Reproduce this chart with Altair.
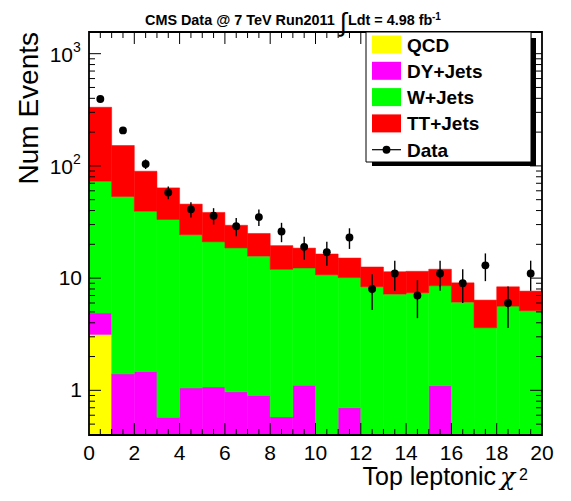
import altair as alt
import numpy as np
import pandas as pd

# ---------------- data ----------------
bin_low = list(range(20))
bin_width = 1.0
qcd = [3.15] + [0.0] * 19
dy_jets = [1.73, 1.40, 1.47, 0.575, 1.05, 1.07, 0.97, 0.90, 0.58, 1.11,
           0.0, 0.70, 0.0, 0.0, 0.0, 1.10, 0.0, 0.0, 0.0, 0.0]
w_jets = [68.2, 52.0, 38.0, 32.7, 23.3, 20.0, 17.6, 14.8, 11.4, 11.2,
          10.7, 9.4, 8.37, 7.2, 7.4, 7.45, 6.11, 3.61, 5.63, 5.12]
tt_jets = [260, 98.6, 50.2, 30.4, 21.3, 17.4, 11.0, 9.3, 7.5, 6.2,
           5.7, 5.0, 4.2, 4.2, 4.1, 3.45, 2.97, 2.76, 2.74, 2.54]
data_counts = [395, 207, 104, 58, 41, 36, 29, 35, 26, 19,
               17, 23, 8, 11, 7, 11, 9, 13, 6, 11]
data_err = [19.9, 14.4, 10.2, 7.6, 6.4, 6.0, 5.4, 5.9, 5.1, 4.4,
            4.1, 4.8, 2.8, 3.3, 2.6, 3.3, 3.0, 3.6, 2.4, 3.3]

components = ["QCD", "DY+Jets", "W+Jets", "TT+Jets"]
comp_colors = ["#ffff00", "#ff00ff", "#00ff00", "#ff0000"]
x_label_values = [0, 2, 4, 6, 8, 10, 12, 14, 16, 18, 20]

# ---------------- layout ----------------
W, H = 453, 403
Y_MIN, Y_MAX = 0.4, 1560
FONT = "Liberation Sans"

# ---------------- stack the histogram ----------------
rows = []
base = np.zeros(len(bin_low))
for name, vals in zip(components, [qcd, dy_jets, w_jets, tt_jets]):
    v = np.array(vals, dtype=float)
    top = base + v
    for i, lo in enumerate(bin_low):
        if v[i] > 0:
            rows.append(dict(comp=name, x0=lo, x1=lo + bin_width,
                             lo=max(base[i], Y_MIN), hi=top[i]))
    base = top
stack_df = pd.DataFrame(rows)

data_df = pd.DataFrame({
    "xc": [b + bin_width / 2 for b in bin_low],
    "n": data_counts,
    "elo": [n - e for n, e in zip(data_counts, data_err)],
    "ehi": [n + e for n, e in zip(data_counts, data_err)],
})

xs = alt.Scale(domain=[0, 20], nice=False, zero=False)
ys = alt.Scale(type="log", domain=[Y_MIN, Y_MAX], nice=False)
cscale = alt.Scale(domain=components, range=comp_colors)

bars = alt.Chart(stack_df).mark_rect(strokeWidth=0.5).encode(
    x=alt.X("x0:Q", scale=xs, axis=None),
    x2="x1:Q",
    y=alt.Y("lo:Q", scale=ys, axis=None),
    y2="hi:Q",
    color=alt.Color("comp:N", scale=cscale, legend=None),
    stroke=alt.Stroke("comp:N", scale=cscale, legend=None),
)

err = alt.Chart(data_df).mark_rule(color="black", strokeWidth=1.4).encode(
    x=alt.X("xc:Q", scale=xs, axis=None),
    y=alt.Y("elo:Q", scale=ys, axis=None),
    y2="ehi:Q",
)
pts = alt.Chart(data_df).mark_circle(color="black", opacity=1, size=62).encode(
    x=alt.X("xc:Q", scale=xs, axis=None),
    y=alt.Y("n:Q", scale=ys, axis=None),
)

# ---------------- inward ROOT-style ticks ----------------
x_all = np.arange(0.5, 20, 0.5)
x_major = [v for v in x_all if abs(v / 2 - round(v / 2)) < 1e-9]
x_minor = [v for v in x_all if abs(v / 2 - round(v / 2)) >= 1e-9]
y_major = [1, 10, 100, 1000]
y_minor = sorted(set(round(m * 10.0 ** e, 6) for e in range(-1, 4) for m in range(2, 10)
                     if Y_MIN < m * 10.0 ** e < Y_MAX))


def xtick_layer(vals, length, side):
    df = pd.DataFrame({"t": vals})
    if side == "bottom":
        pos = dict(y=alt.value(H), y2=alt.value(H - length))
    else:
        pos = dict(y=alt.value(0), y2=alt.value(length))
    return alt.Chart(df).mark_rule(color="black", strokeWidth=1).encode(
        x=alt.X("t:Q", scale=xs, axis=None), **pos)


def ytick_layer(vals, length, side):
    df = pd.DataFrame({"t": vals})
    if side == "left":
        pos = dict(x=alt.value(0), x2=alt.value(length))
    else:
        pos = dict(x=alt.value(W), x2=alt.value(W - length))
    return alt.Chart(df).mark_rule(color="black", strokeWidth=1).encode(
        y=alt.Y("t:Q", scale=ys, axis=None), **pos)


ticks = [
    xtick_layer(x_major, 12, "bottom"), xtick_layer(x_minor, 6, "bottom"),
    xtick_layer(x_major, 12, "top"), xtick_layer(x_minor, 6, "top"),
    ytick_layer(y_major, 12, "left"), ytick_layer(y_minor, 6, "left"),
    ytick_layer(y_major, 12, "right"), ytick_layer(y_minor, 6, "right"),
]


def one():
    return alt.Chart(pd.DataFrame({"d": [0]}))


frame = one().mark_rect(fillOpacity=0, stroke="black", strokeWidth=1.8).encode(
    x=alt.value(0), x2=alt.value(W), y=alt.value(0), y2=alt.value(H))

# ---------------- tick labels ----------------
xlab_df = pd.DataFrame({"v": x_label_values, "txt": [str(v) for v in x_label_values]})
xlab = alt.Chart(xlab_df).mark_text(
    font=FONT, fontSize=21, align="center", baseline="top", color="black"
).encode(x=alt.X("v:Q", scale=xs, axis=None), y=alt.value(H + 8), text="txt:N")

plain_df = pd.DataFrame({"v": [1, 10], "txt": ["1", "10"]})
pow_df = pd.DataFrame({"v": [100, 1000], "txt": ["10", "10"], "ex": ["2", "3"]})
ylab_plain = alt.Chart(plain_df).mark_text(
    font=FONT, fontSize=21, align="right", baseline="middle", color="black", dy=1
).encode(x=alt.value(-7), y=alt.Y("v:Q", scale=ys, axis=None), text="txt:N")
ylab_base = alt.Chart(pow_df).mark_text(
    font=FONT, fontSize=21, align="right", baseline="middle", color="black", dy=2
).encode(x=alt.value(-16), y=alt.Y("v:Q", scale=ys, axis=None), text="txt:N")
ylab_exp = alt.Chart(pow_df).mark_text(
    font=FONT, fontSize=14, align="left", baseline="middle", color="black", dy=-6
).encode(x=alt.value(-16), y=alt.Y("v:Q", scale=ys, axis=None), text="ex:N")

# ---------------- legend (ROOT TLegend look) ----------------
LX0, LX1, LY0, LY1 = 277, 442, 0, 130
legend_layers = [
    one().mark_rect(color="black").encode(
        x=alt.value(LX0 + 6), x2=alt.value(LX1 + 5),
        y=alt.value(LY0 + 6), y2=alt.value(LY1 + 4)),
    one().mark_rect(fill="white", stroke="black", strokeWidth=1).encode(
        x=alt.value(LX0), x2=alt.value(LX1), y=alt.value(LY0), y2=alt.value(LY1)),
]
row_h = 26.3
for i, (name, col) in enumerate(zip(components, comp_colors)):
    cy = 12.5 + row_h * i
    legend_layers.append(one().mark_rect(color=col).encode(
        x=alt.value(283), x2=alt.value(312),
        y=alt.value(cy - 9), y2=alt.value(cy + 9)))
    legend_layers.append(one().mark_text(
        text=name, font=FONT, fontSize=19, fontWeight="bold", align="left",
        baseline="middle", color="black").encode(
        x=alt.value(318), y=alt.value(cy + 1)))
cy = 12.5 + row_h * 4
legend_layers += [
    one().mark_rule(color="black", strokeWidth=1.2).encode(
        x=alt.value(283), x2=alt.value(312), y=alt.value(cy)),
    one().mark_circle(color="black", opacity=1, size=62).encode(
        x=alt.value(297.5), y=alt.value(cy)),
    one().mark_text(text="Data", font=FONT, fontSize=19, fontWeight="bold",
                    align="left", baseline="middle", color="black").encode(
        x=alt.value(318), y=alt.value(cy + 1)),
]

# ---------------- titles ----------------
title_layers = [
    one().mark_text(text="CMS Data @ 7 TeV Run2011", font=FONT, fontSize=14.4,
                    fontWeight="bold", align="left", baseline="alphabetic",
                    color="black").encode(x=alt.value(56), y=alt.value(-7)),
    one().mark_text(text="\u222b", font=FONT, fontSize=26,
                    align="center", baseline="middle", color="black").encode(
        x=alt.value(254), y=alt.value(-9)),
    one().mark_text(text="Ldt = 4.98 fb", font=FONT, fontSize=14.4,
                    fontWeight="bold", align="left", baseline="alphabetic",
                    color="black").encode(x=alt.value(259), y=alt.value(-7)),
    one().mark_text(text="-1", font=FONT, fontSize=10, fontWeight="bold",
                    align="left", baseline="alphabetic", color="black").encode(
        x=alt.value(343), y=alt.value(-12)),
    one().mark_text(text="Num Events", font=FONT, fontSize=28, angle=270,
                    align="right", baseline="alphabetic", color="black").encode(
        x=alt.value(-51), y=alt.value(0)),
    one().mark_text(text="Top leptonic", font=FONT, fontSize=25,
                    align="right", baseline="alphabetic", color="black").encode(
        x=alt.value(407), y=alt.value(453)),
    one().mark_text(text="\u03c7", font="DejaVu Serif", fontSize=25,
                    fontStyle="italic", align="left", baseline="alphabetic",
                    color="black").encode(x=alt.value(411), y=alt.value(453)),
    one().mark_text(text="2", font=FONT, fontSize=16, align="left",
                    baseline="alphabetic", color="black").encode(
        x=alt.value(430), y=alt.value(448)),
]

chart = alt.layer(
    bars, err, pts, *ticks, frame, xlab, ylab_plain, ylab_base, ylab_exp,
    *legend_layers, *title_layers
).properties(
    width=W, height=H,
    autosize=alt.AutoSizeParams(type="none"),
    padding={"left": 81, "top": 24, "right": 20, "bottom": 58},
    background="white",
).configure_view(stroke=None)

chart.save("out.html", embed_options={"renderer": "svg", "actions": False})
